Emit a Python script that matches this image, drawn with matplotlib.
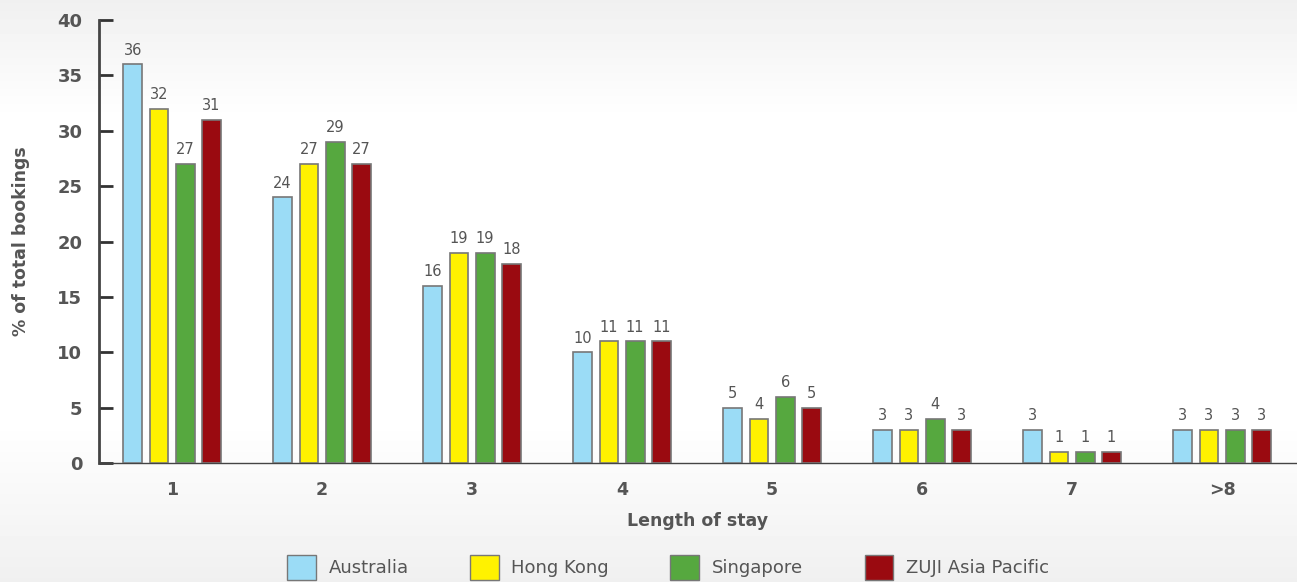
import numpy as np
import matplotlib.pyplot as plt
from matplotlib.patches import Patch

categories = ['1', '2', '3', '4', '5', '6', '7', '>8']
series_names = ['Australia', 'Hong Kong', 'Singapore', 'ZUJI Asia Pacific']
australia = [36, 24, 16, 10, 5, 3, 3, 3]
hong_kong = [32, 27, 19, 11, 4, 3, 1, 3]
singapore = [27, 29, 19, 11, 6, 4, 1, 3]
zuji = [31, 27, 18, 11, 5, 3, 1, 3]
colors = ['#9BDCF6', '#FFF200', '#56A83F', '#9A0A10']

fig = plt.figure(figsize=(12.97, 5.82), dpi=100)

# background gradient (light gray at top and bottom, white in the middle)
bg = fig.add_axes([0, 0, 1, 1], zorder=-10)
grad = np.concatenate([np.linspace(0.94, 1.0, 120), np.ones(300), np.linspace(1.0, 0.94, 162)])
bg.imshow(grad[:, None], aspect='auto', cmap='gray', vmin=0, vmax=1, extent=[0, 1, 0, 1])
bg.axis('off')

ax = fig.add_axes([99 / 1297, (582 - 463) / 582, 1 - 99 / 1297, (463 - 20) / 582])
ax.patch.set_alpha(0)

x = np.arange(len(categories))
width = 0.125
step = 0.175
all_series = [australia, hong_kong, singapore, zuji]
for i, (vals, col) in enumerate(zip(all_series, colors)):
    pos = x + (i - 1.5) * step
    bars = ax.bar(pos, vals, width, color=col, edgecolor='#777777', linewidth=1.2, zorder=3)
    for b, v in zip(bars, vals):
        ax.text(b.get_x() + b.get_width() / 2, v + 0.6, str(v), ha='center', va='bottom',
                fontsize=10.5, color='#555555')

ax.set_xlim(-0.487, 7.5)
ax.set_ylim(0, 40)
ax.set_yticks(range(0, 41, 5))
ax.set_xticks(x)
ax.set_xticklabels(categories)
for s in ['top', 'right']:
    ax.spines[s].set_visible(False)
ax.spines['left'].set_color('#444444')
ax.spines['left'].set_linewidth(2)
ax.spines['bottom'].set_color('#444444')
ax.spines['bottom'].set_linewidth(1)
ax.tick_params(axis='y', direction='in', length=10, width=2, color='#333333',
               labelsize=13, labelcolor='#555555', pad=12)
ax.tick_params(axis='x', length=0, labelsize=12.5, labelcolor='#555555', pad=13)
for lab in ax.get_xticklabels() + ax.get_yticklabels():
    lab.set_fontweight('bold')

ax.set_ylabel('% of total bookings', fontsize=12.5, fontweight='bold', color='#555555', labelpad=20)
ax.set_xlabel('Length of stay', fontsize=12.5, fontweight='bold', color='#555555', labelpad=9)

handles = [Patch(facecolor=c, edgecolor='#777777', label=n) for c, n in zip(colors, series_names)]
fig.legend(handles=handles, loc='lower center', bbox_to_anchor=(0.515, -0.024), ncol=4,
           frameon=False, fontsize=13, handlelength=1.6, handleheight=1.7, columnspacing=3.4,
           handletextpad=0.7, labelcolor='#555555')

fig.savefig('out.png', dpi=100)
